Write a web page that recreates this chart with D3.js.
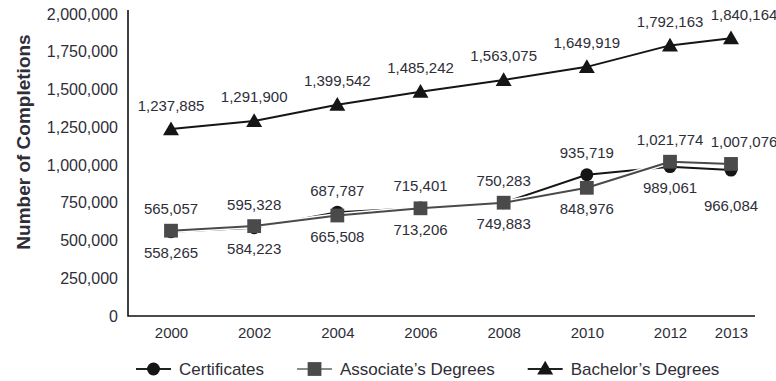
<!DOCTYPE html>
<html>
<head>
<meta charset="utf-8">
<script src="https://cdn.jsdelivr.net/npm/d3@7"></script>
<style>
  html, body { margin: 0; padding: 0; background: #fff; }
  svg { display: block; }
  text { font-family: "Liberation Sans", Arial, sans-serif; fill: #2e2e38; }
</style>
</head>
<body>
<svg id="chart" width="776" height="381"></svg>
<script>
// ---- data ----
const years = [2000, 2002, 2004, 2006, 2008, 2010, 2012, 2013];
const certificates = [558265, 584223, 687787, 715401, 749883, 935719, 989061, 966084];
const associates = [565057, 595328, 665508, 713206, 750283, 848976, 1021774, 1007076];
const bachelors = [1237885, 1291900, 1399542, 1485242, 1563075, 1649919, 1792163, 1840164];
const yTicks = [0, 250000, 500000, 750000, 1000000, 1250000, 1500000, 1750000, 2000000];
const seriesNames = ["Certificates", "Associate\u2019s Degrees", "Bachelor\u2019s Degrees"];
const yTitle = "Number of Completions";

// ---- layout ----
const W = 776, H = 381;
const plot = { left: 128, right: 755, top: 14, bottom: 316 };
const svg = d3.select("#chart");

const x = d3.scaleLinear().domain([2000, 2012, 2013]).range([171, 670, 731]);
const y = d3.scaleLinear().domain([0, 2000000]).range([plot.bottom, plot.top]);
const fmt = d3.format(",");

// axes
const yAxis = svg.append("g").attr("transform", `translate(${plot.left},0)`)
  .call(d3.axisLeft(y).tickValues(yTicks).tickSize(0).tickPadding(10).tickFormat(fmt));
yAxis.select(".domain").remove();
yAxis.selectAll("text").style("font-size", "16px").style("font-family", "Liberation Sans, Arial, sans-serif").attr("fill", "#2e2e38");

const xAxis = svg.append("g").attr("transform", `translate(0,${plot.bottom})`)
  .call(d3.axisBottom(x).tickValues(years).tickSize(0).tickPadding(11).tickFormat(d3.format("d")));
xAxis.select(".domain").remove();
xAxis.selectAll("text").style("font-size", "15px").style("font-family", "Liberation Sans, Arial, sans-serif").attr("fill", "#2e2e38");

svg.append("path")
  .attr("d", `M${plot.left},${plot.top - 4}V${plot.bottom}H${plot.right}`)
  .attr("fill", "none").attr("stroke", "#111").attr("stroke-width", 1.6);

// y title
svg.append("text")
  .attr("transform", `translate(23,${(plot.top + plot.bottom) / 2 - 23}) rotate(-90)`)
  .attr("text-anchor", "middle").attr("dominant-baseline", "central")
  .style("font-size", "19px").style("font-weight", "bold").attr("fill", "#222")
  .text(yTitle);

// ---- marker shapes ----
const sym = {
  circle: d3.symbol().type(d3.symbolCircle).size(130),
  square: d3.symbol().type(d3.symbolSquare).size(190),
  triangle: d3.symbol().type(d3.symbolTriangle).size(110)
};

const series = [
  { name: seriesNames[0], values: certificates, line: "#151515", fill: "#151515", shape: "circle", legendLine: "#222" },
  { name: seriesNames[1], values: associates, line: "#4a4a4a", fill: "#4a4a4a", shape: "square", legendLine: "#8a8a8a" },
  { name: seriesNames[2], values: bachelors, line: "#151515", fill: "#151515", shape: "triangle", legendLine: "#222" }
];

const line = d3.line().x((d, i) => x(years[i])).y(d => y(d));

series.forEach(s => {
  const g = svg.append("g");
  g.append("path").attr("d", line(s.values)).attr("fill", "none")
    .attr("stroke", "#fff").attr("stroke-width", 5).attr("stroke-linejoin", "round");
  g.append("path").attr("d", line(s.values)).attr("fill", "none")
    .attr("stroke", s.line).attr("stroke-width", 2).attr("stroke-linejoin", "round");
  g.selectAll("path.m").data(s.values).join("path").attr("class", "m")
    .attr("transform", (d, i) => `translate(${x(years[i])},${y(d) + (s.shape === "triangle" ? 1.5 : 0)})`)
    .attr("d", sym[s.shape]()).attr("fill", s.fill);
});

// ---- value labels ----
const lbl = svg.append("g").style("font-size", "15px").attr("text-anchor", "middle");
const last = years.length - 1;
lbl.selectAll("text.b").data(bachelors).join("text").attr("class", "b")
  .attr("x", (d, i) => x(years[i]) + (i === last ? 13 : 0))
  .attr("y", d => y(d) - 24).attr("dominant-baseline", "central")
  .text(d => fmt(d));

years.forEach((yr, i) => {
  const a = associates[i], c = certificates[i];
  const hi = Math.max(a, c), lo = Math.min(a, c);
  lbl.append("text").attr("x", x(yr) + (i === last ? 13 : 0)).attr("y", y(hi) - 22)
    .attr("dominant-baseline", "central").text(fmt(hi));
  lbl.append("text").attr("x", x(yr)).attr("y", y(lo) + (i === last ? 35 : 21))
    .attr("dominant-baseline", "central").text(fmt(lo));
});

// ---- legend ----
const legY = 369;
let lx = 136;
series.forEach(s => {
  const g = svg.append("g");
  g.append("line").attr("x1", lx).attr("x2", lx + 35).attr("y1", legY).attr("y2", legY)
    .attr("stroke", s.legendLine).attr("stroke-width", 2);
  g.append("path").attr("transform", `translate(${lx + 17.5},${legY + (s.shape === "triangle" ? 1 : 0)})`)
    .attr("d", sym[s.shape]()).attr("fill", s.fill);
  const t = g.append("text").attr("x", lx + 43).attr("y", legY).attr("dominant-baseline", "central")
    .style("font-size", "17px").text(s.name);
  lx = lx + 43 + t.node().getComputedTextLength() + 33;
});
</script>
</body>
</html>
